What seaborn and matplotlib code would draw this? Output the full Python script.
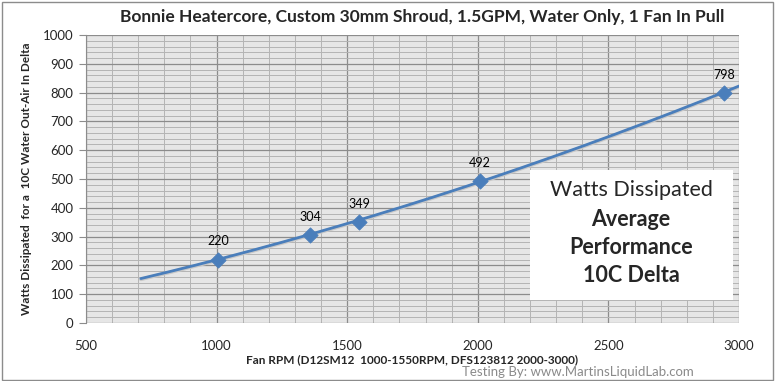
import numpy as np
import pandas as pd
import matplotlib
matplotlib.use("Agg")
import matplotlib.pyplot as plt
import seaborn as sns
from matplotlib.ticker import MultipleLocator
from matplotlib.patches import Rectangle

rpm = [1005, 1358, 1545, 2008, 2943]
watts = [220, 304, 349, 492, 798]
labels = ["220", "304", "349", "492", "798"]
trend_range = [710, 3000]
box_lines = ["Watts Dissipated", "Average", "Performance", "10C Delta"]

sns.set_style("white")
plt.rcParams['font.family'] = ['Lato', 'DejaVu Sans']

fig = plt.figure(figsize=(7.75, 3.81), dpi=100)
ax = fig.add_axes([86/775, 1-323/381, (739-86)/775, (323-35)/381])
ax.set_facecolor("#e6e6e6")

# trendline (polynomial fit, like Excel)
coef = np.polyfit(rpm, watts, 2)
xs = np.linspace(trend_range[0], trend_range[1], 200)
tdf = pd.DataFrame({"x": xs, "y": np.polyval(coef, xs)})
sns.lineplot(data=tdf, x="x", y="y", ax=ax, color="#c8c8c8", lw=2.5, zorder=3,
             estimator=None, sort=False)
tdf2 = tdf.copy(); tdf2["y"] = tdf2["y"] + 3
sns.lineplot(data=tdf2, x="x", y="y", ax=ax, color="#4a7ebb", lw=2.0, zorder=4,
             estimator=None, sort=False)

df = pd.DataFrame({"rpm": rpm, "watts": watts})
sns.scatterplot(data=df, x="rpm", y="watts", ax=ax, marker="D", s=60,
                color="#4a7ebb", edgecolor="#4a7ebb", zorder=5)
for x, y, t in zip(rpm, watts, labels):
    ax.annotate(t, (x, y), xytext=(0, 9), textcoords="offset points",
                ha="center", va="bottom", fontsize=9, color="black")

ax.set_xlim(500, 3000)
ax.set_ylim(0, 1000)
ax.xaxis.set_major_locator(MultipleLocator(500))
ax.xaxis.set_minor_locator(MultipleLocator(100))
ax.yaxis.set_major_locator(MultipleLocator(100))
ax.yaxis.set_minor_locator(MultipleLocator(20))
ax.grid(which="major", color="#8c8c8c", lw=0.9)
ax.grid(which="minor", color="#b4b4b4", lw=0.7)
ax.set_axisbelow(True)
for s in ["top", "right", "bottom"]:
    ax.spines[s].set_visible(False)
ax.spines["left"].set_color("#8c8c8c")
ax.tick_params(axis="y", which="major", direction="out", length=5, color="#8c8c8c",
               labelsize=9.5, pad=4, left=True)
ax.tick_params(axis="x", which="major", length=0, labelsize=9.5, pad=12)
ax.tick_params(which="minor", length=0)

ax.set_xlabel("Fan RPM (D12SM12  1000-1550RPM, DFS123812 2000-3000)",
              fontsize=8.5, fontweight="bold", labelpad=2)
ax.set_ylabel("Watts Dissipated  for a  10C Water Out-Air In Delta",
              fontsize=8.5, fontweight="bold", labelpad=8)
fig.text(0.545, 0.955, "Bonnie Heatercore, Custom 30mm Shroud, 1.5GPM, Water Only, 1 Fan In Pull",
         ha="center", va="center", fontsize=12.5, fontweight="bold")

# annotation box
ax.add_patch(Rectangle(((530-86)/653, (323-300)/288), (733-530)/653, (300-170)/288,
                       transform=ax.transAxes, facecolor="white", edgecolor="none", zorder=6))
ypix = [190, 219, 247, 276]
for i, (t, yp) in enumerate(zip(box_lines, ypix)):
    ax.text((631-86)/653, (323-yp)/288, t, transform=ax.transAxes, ha="center",
            va="center", fontsize=15.5, fontweight="normal" if i == 0 else "bold", zorder=7)

fig.text(0.745, 0.023, "Testing By: www.MartinsLiquidLab.com", ha="center",
         va="center", fontsize=9.5, color="#8a8a8a")
fig.add_artist(Rectangle((0.002, 0.003), 0.995, 0.993, transform=fig.transFigure,
                         fill=False, edgecolor="#8c8c8c", lw=1))

fig.savefig("out.png", dpi=100, facecolor="white")
